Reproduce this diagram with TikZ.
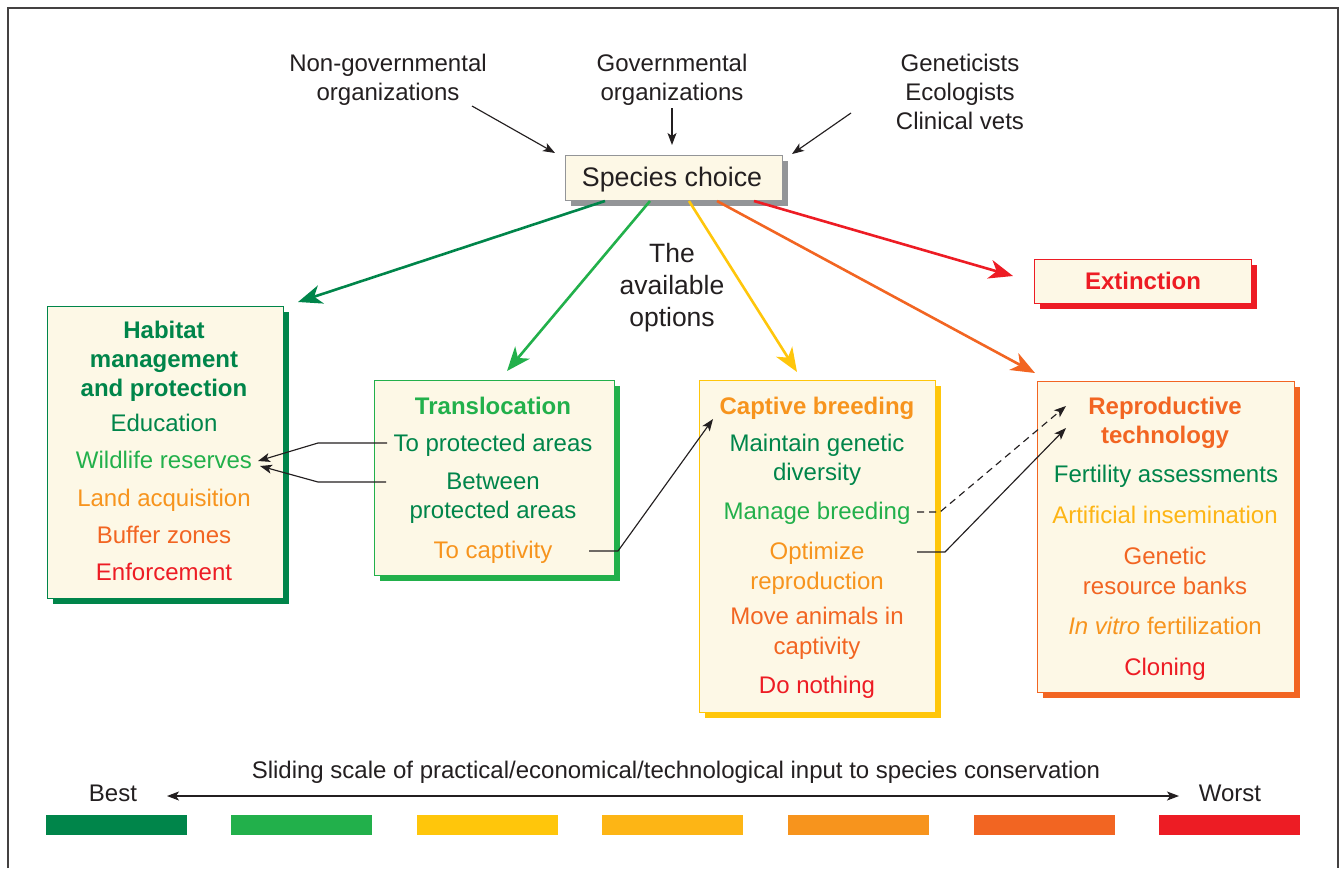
\documentclass[tikz,border=0pt]{standalone}
\usepackage{fontspec}
\setmainfont{Liberation Sans}
\usetikzlibrary{arrows.meta,shadows,calc}
\definecolor{dgreen}{HTML}{00854A}
\definecolor{lgreen}{HTML}{22B04B}
\definecolor{cyellow}{HTML}{FFC60B}
\definecolor{camber}{HTML}{FDB515}
\definecolor{corange}{HTML}{F7941D}
\definecolor{corred}{HTML}{F26522}
\definecolor{cred}{HTML}{ED1C24}
\definecolor{cream}{HTML}{FDF8E6}
\definecolor{ink}{HTML}{231F20}
\definecolor{sgray}{HTML}{939598}
\tikzset{
  lbl/.style={font=\fontsize{24}{28}\selectfont, inner sep=0pt, anchor=base, text=ink},
  big/.style={font=\fontsize{26.8}{31}\selectfont, inner sep=0pt, anchor=base, text=ink},
  ttl/.style={font=\fontsize{24}{28}\selectfont\bfseries, inner sep=0pt, anchor=base},
  optbox/.style={draw=#1, fill=cream, line width=0.9pt, inner sep=0pt,
    drop shadow={shadow xshift=6pt, shadow yshift=-6pt, fill=#1, opacity=1, draw=none}},
  opt/.style={line width=2.6pt, draw=#1, -{Stealth[length=24pt,width=19pt,inset=7pt]}},
  blk/.style={line width=1.15pt, draw=ink, -{Stealth[length=12pt,width=9pt,inset=3pt]}},
  bar/.style={fill=#1, draw=none},
}
\begin{document}
\begin{tikzpicture}[x=1pt,y=-1pt]
\useasboundingbox (0,0) rectangle (1343,868);
% frame
\draw[line width=1.4pt, draw=ink!85] (8,868) -- (8,8) -- (1338,8) -- (1338,868);

% top labels
\node[lbl] (ngoa) at (388,71) {Non-governmental};
\node[lbl] (ngob) at (388,100) {organizations};
\node[lbl] (gova) at (672,71) {Governmental};
\node[lbl] (govb) at (672,100) {organizations};
\node[lbl] (gena) at (960,71) {Geneticists};
\node[lbl] (genb) at (960,100) {Ecologists};
\node[lbl] (genc) at (960,129) {Clinical vets};

% species choice
\node[optbox=sgray, draw=sgray, minimum width=217pt, minimum height=45pt] (sp) at (673.5,177.5) {};
\node[big] (spt) at (672,186) {Species choice};

\coordinate (ngoS) at (472,106);
\coordinate (ngoT) at (555,153);
\coordinate (govS) at (672,108);
\coordinate (govT) at (672,145);
\coordinate (genS) at (851,113);
\coordinate (genT) at (792,154);
\draw[blk] (ngoS) -- (ngoT);
\draw[blk] (govS) -- (govT);
\draw[blk] (genS) -- (genT);

% the available options
\node[big, font=\fontsize{26.5}{31}\selectfont] (oa) at (672,262) {The};
\node[big, font=\fontsize{26.5}{31}\selectfont] (ob) at (672,294) {available};
\node[big, font=\fontsize{26.5}{31}\selectfont] (oc) at (672,326) {options};

% extinction
\node[optbox=cred, minimum width=217pt, minimum height=44pt] (ext) at (1142.5,281) {};
\node[ttl, text=cred] (extt) at (1143,289) {Extinction};

% habitat
\node[optbox=dgreen, minimum width=236pt, minimum height=292pt] (hab) at (165,452) {};
\node[ttl, text=dgreen] (h1) at (164,338) {Habitat};
\node[ttl, text=dgreen] (h2) at (164,367) {management};
\node[ttl, text=dgreen] (h3) at (164,396) {and protection};
\node[lbl, text=dgreen] (h4) at (164,431) {Education};
\node[lbl, text=lgreen] (wr) at (164,468) {Wildlife reserves};
\node[lbl, text=corange] (h6) at (164,506) {Land acquisition};
\node[lbl, text=corred] (h7) at (164,543) {Buffer zones};
\node[lbl, text=cred] (h8) at (164,580) {Enforcement};

% translocation
\node[optbox=lgreen, minimum width=240pt, minimum height=195pt] (tr) at (494,477.5) {};
\node[ttl, text=lgreen] (t1) at (493,414) {Translocation};
\node[lbl, text=dgreen] (tpa) at (493,451) {To protected areas};
\node[lbl, text=dgreen] (bet) at (493,489) {Between};
\node[lbl, text=dgreen] (t4) at (493,518) {protected areas};
\node[lbl, text=corange] (tcap) at (493,558) {To captivity};

% captive breeding
\node[optbox=cyellow, minimum width=236pt, minimum height=332pt] (cb) at (817,546) {};
\node[ttl, text=corange] (cbt) at (817,414) {Captive breeding};
\node[lbl, text=dgreen] (c2) at (817,451) {Maintain genetic};
\node[lbl, text=dgreen] (c3) at (817,480) {diversity};
\node[lbl, text=lgreen] (mb) at (817,519) {Manage breeding};
\node[lbl, text=corange] (opz) at (817,559) {Optimize};
\node[lbl, text=corange] (c6) at (817,589) {reproduction};
\node[lbl, text=corred] (c7) at (817,624) {Move animals in};
\node[lbl, text=corred] (c8) at (817,654) {captivity};
\node[lbl, text=cred] (c9) at (817,693) {Do nothing};

% reproductive technology
\node[optbox=corred, minimum width=257pt, minimum height=311pt] (rt) at (1165.5,536.5) {};
\node[ttl, text=corred] (rt1) at (1165,414) {Reproductive};
\node[ttl, text=corred] (rt2) at (1165,443) {technology};
\node[lbl, text=dgreen] (r3) at (1166,482) {Fertility assessments};
\node[lbl, text=camber] (r4) at (1165,523) {Artificial insemination};
\node[lbl, text=corred] (r5) at (1165,564) {Genetic};
\node[lbl, text=corred] (r6) at (1165,594) {resource banks};
\node[lbl, text=corange] (r7) at (1165,634) {\textit{In vitro} fertilization};
\node[lbl, text=cred] (r8) at (1165,675) {Cloning};

% coloured option arrows
\coordinate (s1) at (605,201);
\coordinate (s2) at (650,201);
\coordinate (s3) at (689,201);
\coordinate (s4) at (717,201);
\coordinate (s5) at (754,201);
\coordinate (e1) at (298,302);
\coordinate (e2) at (507,371);
\coordinate (e3) at (797,372);
\coordinate (e4) at (1035,373);
\coordinate (e5) at (1013,276);
\draw[opt=dgreen] (s1) -- (e1);
\draw[opt=lgreen] (s2) -- (e2);
\draw[opt=cyellow] (s3) -- (e3);
\draw[opt=corred] (s4) -- (e4);
\draw[opt=cred] (s5) -- (e5);

% black connectors
\coordinate (k1s) at (387,443);
\coordinate (k1) at (318,443);
\coordinate (k1t) at (258,461);
\coordinate (k2s) at (386,482);
\coordinate (k2) at (318,482);
\coordinate (k2t) at (260,466);
\draw[blk] (k1s) -- (k1) -- (k1t);
\draw[blk] (k2s) -- (k2) -- (k2t);

\coordinate (k3s) at (589,551);
\coordinate (k3) at (618,551);
\coordinate (k3t) at (713,419);
\draw[blk] (k3s) -- (k3) -- (k3t);

\coordinate (k4s) at (917,512);
\coordinate (k4) at (940,512);
\coordinate (k4t) at (1066,406);
\draw[blk, dash pattern=on 7pt off 5pt] (k4s) -- (k4) -- (k4t);

\coordinate (k5s) at (917,552);
\coordinate (k5) at (945,552);
\coordinate (k5t) at (1066,428);
\draw[blk] (k5s) -- (k5) -- (k5t);

% bottom scale
\node[lbl] (sl) at (676,778) {Sliding scale of practical/economical/technological input to species conservation};
\node[lbl] (best) at (113,801) {Best};
\node[lbl] (worst) at (1230,801) {Worst};
\coordinate (la) at (167,796);
\coordinate (lb) at (1179,796);
\draw[line width=1.15pt, draw=ink, {Stealth[length=12pt,width=9pt,inset=3pt]}-{Stealth[length=12pt,width=9pt,inset=3pt]}] (la) -- (lb);

\fill[bar=dgreen] (46,815) rectangle (187,835);
\fill[bar=lgreen] (231,815) rectangle (372,835);
\fill[bar=cyellow] (417,815) rectangle (558,835);
\fill[bar=camber] (602,815) rectangle (743,835);
\fill[bar=corange] (788,815) rectangle (929,835);
\fill[bar=corred] (974,815) rectangle (1115,835);
\fill[bar=cred] (1159,815) rectangle (1300,835);
\end{tikzpicture}
\end{document}
